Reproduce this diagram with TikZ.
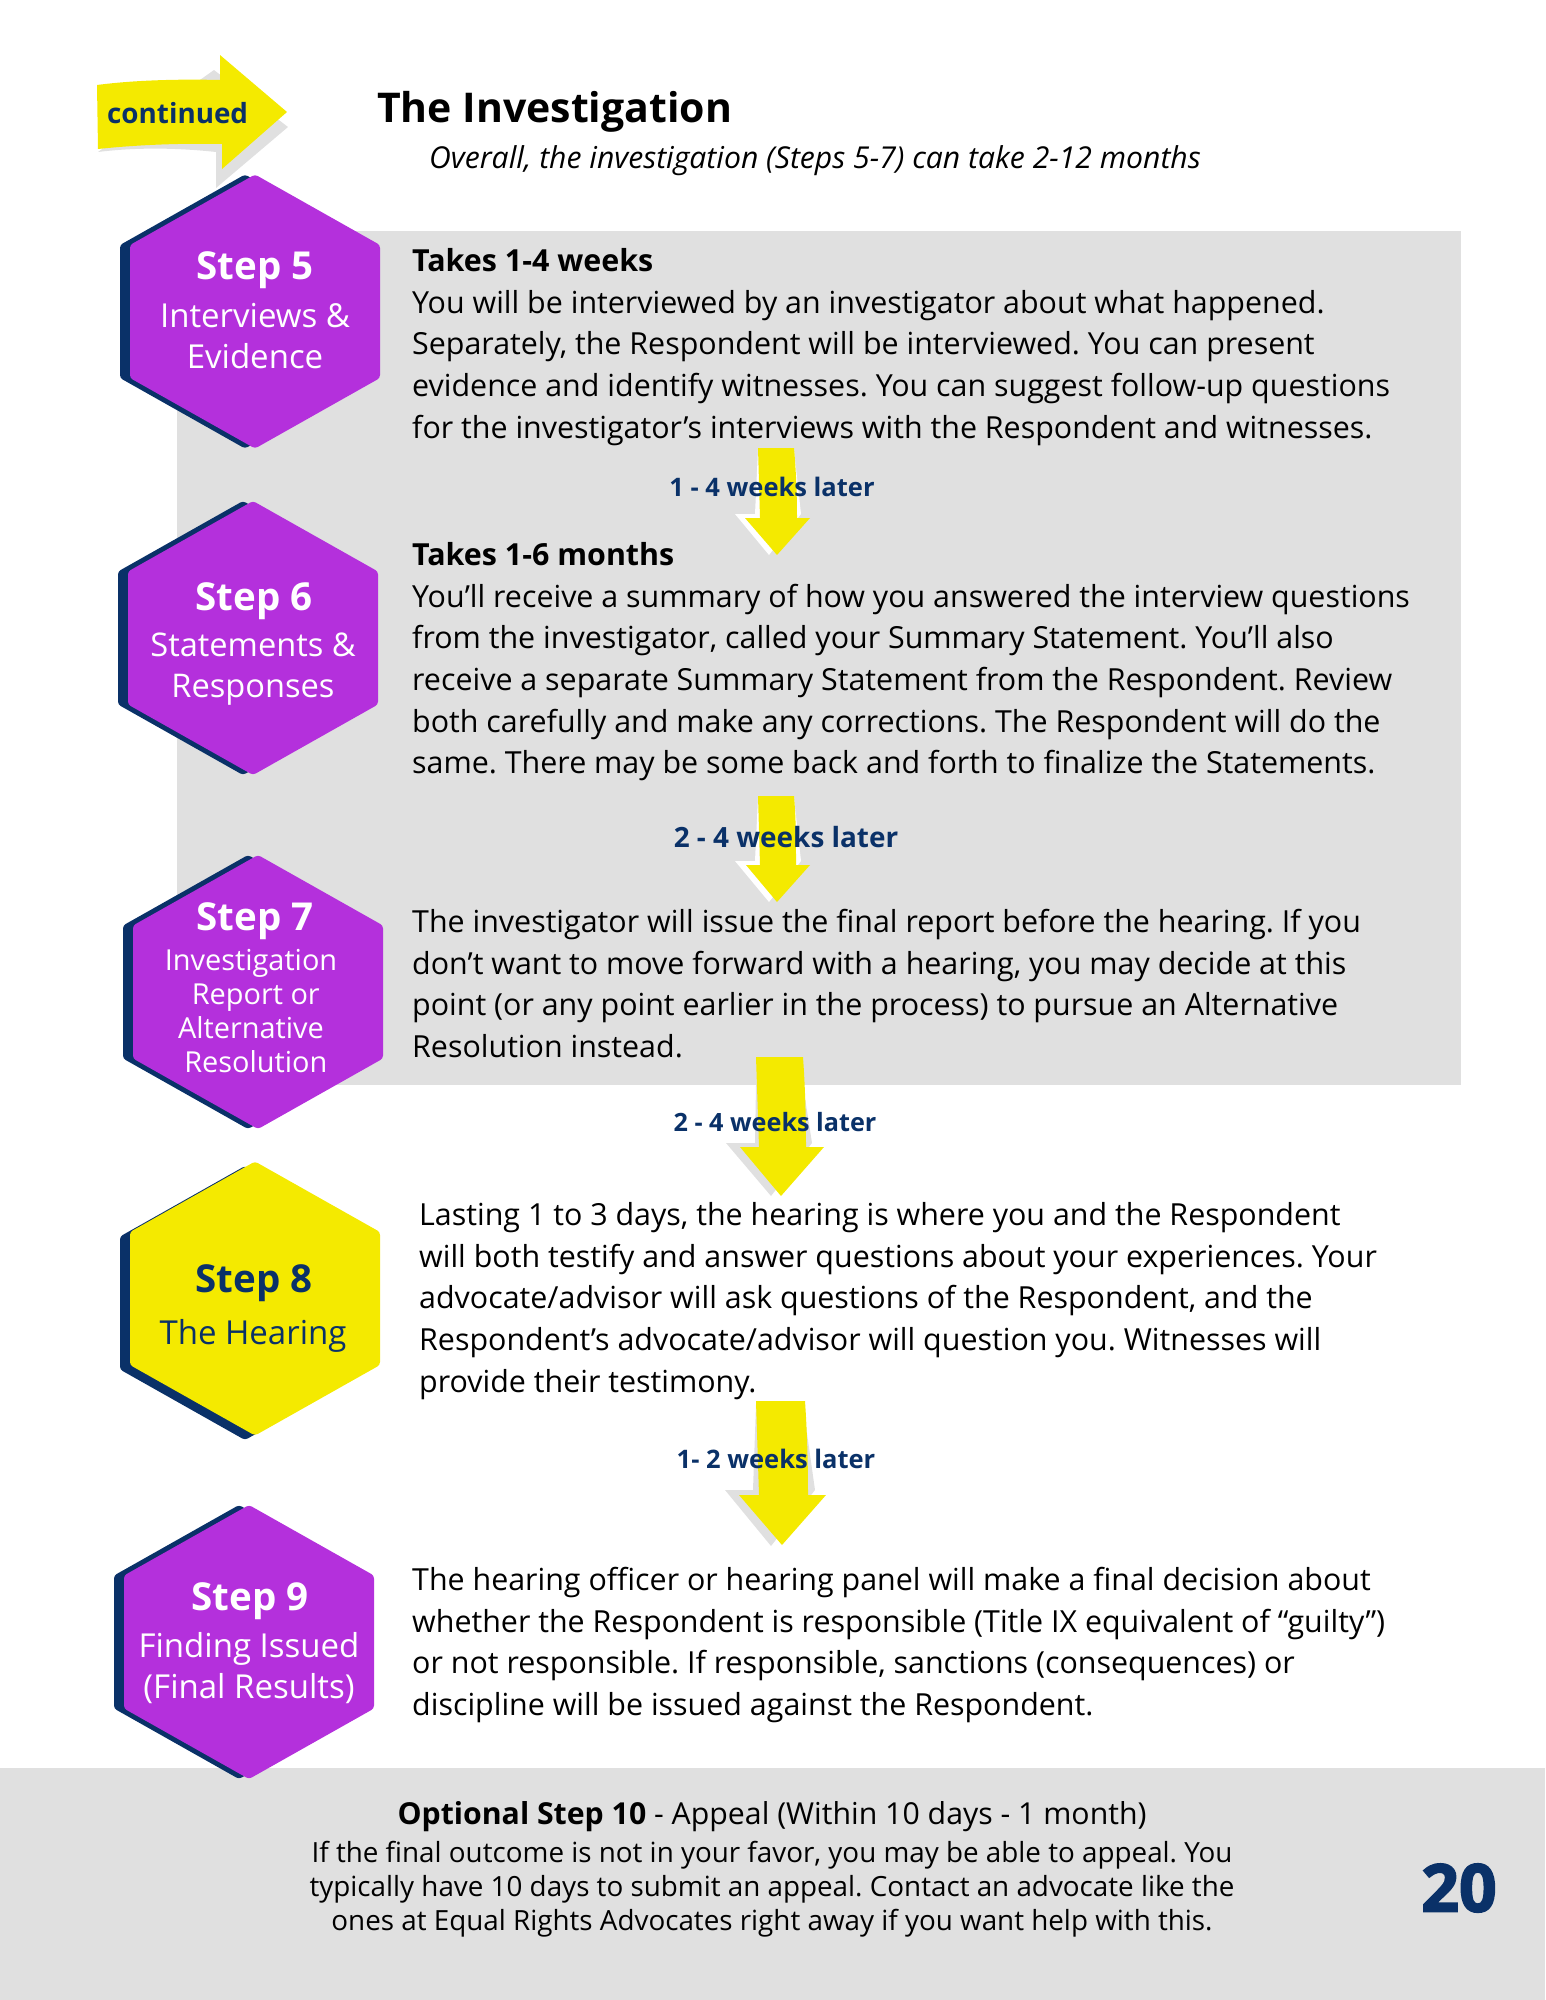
\documentclass[tikz,border=0pt]{standalone}
\usepackage{fontspec}
\setmainfont{Open Sans}
\newfontface\heavyface[FakeBold=2.6]{Open Sans Bold}
\frenchspacing
\definecolor{panelgray}{HTML}{E0E0E0}
\definecolor{navyblue}{HTML}{0A3168}
\definecolor{stepviolet}{HTML}{B430DC}
\definecolor{flagyellow}{HTML}{F4EA00}
\newcommand{\hexagonat}[3]{% centre x, centre y, colour
    \fill[#3, rounded corners=3pt] (#1,#2-137) -- (#1+125,#2-66.5) -- (#1+125,#2+66.5) -- (#1,#2+137) -- (#1-125,#2+66.5) -- (#1-125,#2-66.5) -- cycle;
}
\tikzset{
    body/.style={anchor=north west, align=left, inner sep=0pt, font=\fontsize{30.4}{41.7}\selectfont},
    steptitle/.style={anchor=center, align=center, inner sep=0pt, font=\fontsize{38.5}{44}\selectfont\bfseries},
    stepname/.style={anchor=center, align=center, inner sep=0pt, font=\fontsize{33}{41}\selectfont},
    later/.style={anchor=center, inner sep=0pt, text=navyblue, font=\fontsize{25.5}{30}\selectfont\bfseries},
}
\begin{document}
\begin{tikzpicture}[x=1pt, y=-1pt]

    \useasboundingbox (0,0) rectangle (1545,2000);

    % Panels
    \fill[panelgray] (177,231) rectangle (1461,1085);
    \fill[panelgray] (0,1768) rectangle (1545,2000);

    % Continued arrow
    \fill[panelgray] (214,70) -- (288,127) -- (216,188) -- (216,152) .. controls (170,147) and (130,148) .. (98,152) -- cycle;
    \fill[flagyellow] (97,85) .. controls (135,80) and (180,79) .. (220,80) -- (220,55) -- (287,112) -- (222,169) -- (222,144) .. controls (180,143) and (135,145) .. (98,149) -- cycle;
    \node[anchor=west, inner sep=0pt, text=navyblue, font=\fontsize{27.8}{34}\selectfont\bfseries] (continued) at (107,113) {continued};

    % Heading
    \node[anchor=west, inner sep=0pt, font=\fontsize{41}{48}\selectfont\bfseries] (heading) at (377,112) {The Investigation};
    \node[anchor=west, inner sep=0pt, font=\fontsize{30.15}{40}\selectfont\itshape] (overall) at (429,161) {Overall, the investigation (Steps 5-7) can take 2-12 months};

    % Step arrows
    \fill[white] (758,450) -- (755,514) -- (735,514) -- (769,555) -- (801,514) -- (794,450) -- cycle;
    \fill[flagyellow] (758,448) -- (794,448) .. controls (796,470) and (797,495) .. (797,518) -- (810,518) -- (777,555) -- (745,518) -- (760,518) -- cycle;

    \fill[white] (758,798) -- (755,861) -- (735,861) -- (769,902) -- (801,861) -- (794,798) -- cycle;
    \fill[flagyellow] (758,796) -- (794,796) .. controls (796,818) and (796,842) .. (796,865) -- (810,865) -- (777,902) -- (746,865) -- (760,865) -- cycle;

    \fill[panelgray] (756,1085) -- (755,1143) -- (726,1143) -- (771,1196) -- (812,1143) -- (803,1085) -- cycle;
    \fill[flagyellow] (756,1057) -- (803,1057) .. controls (805,1085) and (806,1115) .. (806,1147) -- (824,1147) -- (781,1196) -- (740,1147) -- (759,1147) -- cycle;

    \fill[panelgray] (756,1405) -- (753,1490) -- (725,1490) -- (771,1546) -- (815,1490) -- (803,1405) -- cycle;
    \fill[flagyellow] (756,1401) -- (805,1401) .. controls (807,1430) and (808,1462) .. (808,1495) -- (826,1495) -- (782,1545) -- (739,1495) -- (759,1495) -- cycle;

    % Hexagons
    \hexagonat{245}{311.5}{navyblue}
    \hexagonat{255}{311.5}{stepviolet}
    \hexagonat{243}{638}{navyblue}
    \hexagonat{253}{638}{stepviolet}
    \hexagonat{248}{992}{navyblue}
    \hexagonat{258}{992}{stepviolet}
    \hexagonat{245}{1303}{navyblue}
    \hexagonat{255}{1298.5}{flagyellow}
    \hexagonat{239}{1642}{navyblue}
    \hexagonat{249}{1642}{stepviolet}

    % Step 5
    \node[steptitle, text=white] (stepfive) at (255,270) {Step 5};
    \node[stepname, text=white] (namefive) at (255,336) {Interviews \&\\Evidence};
    \node[body] (textfive) at (412,248) {\textbf{Takes 1-4 weeks}\\
        You will be interviewed by an investigator about what happened.\\
        Separately, the Respondent will be interviewed. You can present\\
        evidence and identify witnesses. You can suggest follow-up questions\\
        for the investigator’s interviews with the Respondent and witnesses.};
    \node[later] (laterfive) at (772,487) {1 - 4 weeks later};

    % Step 6
    \node[steptitle, text=white] (stepsix) at (254,601) {Step 6};
    \node[stepname, text=white, font=\fontsize{32.6}{41}\selectfont] (namesix) at (253,669) {Statements \&\\Responses};
    \node[body] (textsix) at (412,542) {\textbf{Takes 1-6 months}\\
        You’ll receive a summary of how you answered the interview questions\\
        from the investigator, called your Summary Statement. You’ll also\\
        receive a separate Summary Statement from the Respondent. Review\\
        both carefully and make any corrections. The Respondent will do the\\
        same. There may be some back and forth to finalize the Statements.};
    \node[later, font=\fontsize{27.9}{30}\selectfont\bfseries] (latersix) at (786,837) {2 - 4 weeks later};

    % Step 7
    \node[steptitle, text=white] (stepseven) at (255,921) {Step 7};
    \node[anchor=center, align=center, inner sep=0pt, text=white, font=\fontsize{28.9}{34}\selectfont] (nameseven) at (251,1011) {Investigation\\\,\,Report or\\Alternative\\\,\,Resolution};
    \node[body] (textseven) at (412,909) {The investigator will issue the final report before the hearing. If you\\
        don’t want to move forward with a hearing, you may decide at this\\
        point (or any point earlier in the process) to pursue an Alternative\\
        Resolution instead.};
    \node[later, font=\fontsize{25.2}{30}\selectfont\bfseries] (laterseven) at (775,1122) {2 - 4 weeks later};

    % Step 8
    \node[steptitle, text=navyblue] (stepeight) at (254,1283) {Step 8};
    \node[stepname, text=navyblue] (nameeight) at (253,1336) {The Hearing};
    \node[body] (texteight) at (419,1202) {Lasting 1 to 3 days, the hearing is where you and the Respondent\\
        will both testify and answer questions about your experiences. Your\\
        advocate/advisor will ask questions of the Respondent, and the\\
        Respondent’s advocate/advisor will question you. Witnesses will\\
        provide their testimony.};
    \node[later] (latereight) at (776,1459) {1- 2 weeks later};

    % Step 9
    \node[steptitle, text=white] (stepnine) at (250,1601) {Step 9};
    \node[stepname, text=white] (namenine) at (249,1668) {Finding Issued\\(Final Results)};
    \node[body] (textnine) at (412,1567) {The hearing officer or hearing panel will make a final decision about\\
        whether the Respondent is responsible (Title IX equivalent of “guilty”)\\
        or not responsible. If responsible, sanctions (consequences) or\\
        discipline will be issued against the Respondent.};

    % Optional step
    \node[anchor=center, inner sep=0pt, font=\fontsize{30.25}{40}\selectfont] (optional) at (772,1817) {\textbf{Optional Step 10} - Appeal (Within 10 days - 1 month)};
    \node[anchor=center, align=center, inner sep=0pt, font=\fontsize{27.8}{34}\selectfont] (appeal) at (772,1889) {If the final outcome is not in your favor, you may be able to appeal. You\\
        typically have 10 days to submit an appeal. Contact an advocate like the\\
        ones at Equal Rights Advocates right away if you want help with this.};
    \node[anchor=center, inner sep=0pt, text=navyblue, font=\fontsize{66}{70}\heavyface] (pagenumber) at (1459,1888) {20};

\end{tikzpicture}
\end{document}
